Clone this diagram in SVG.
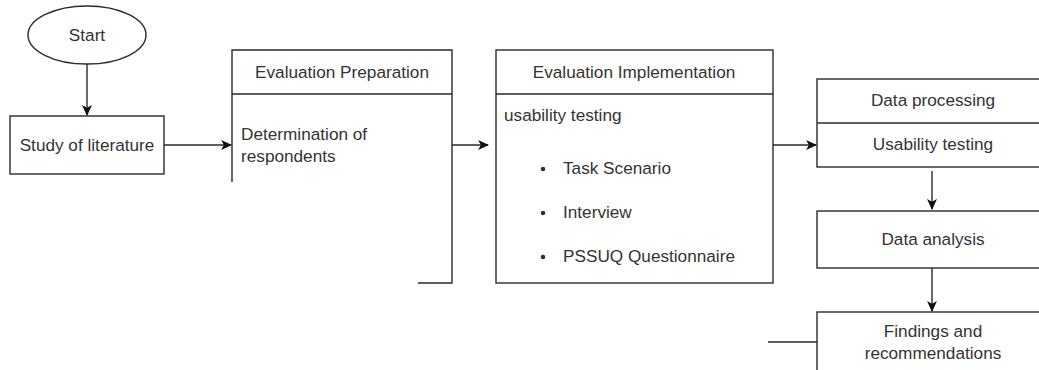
<svg xmlns="http://www.w3.org/2000/svg" width="1039" height="370" viewBox="0 0 1039 370">
<style>
.s{fill:#fff;stroke:#2a2a2a;stroke-width:1.4}
.l{fill:none;stroke:#2a2a2a;stroke-width:1.4}
text{font-family:"Liberation Sans",Arial,sans-serif;font-size:17.2px;fill:#333}
.c{text-anchor:middle}
</style>
<defs>
<marker id="a" viewBox="0 0 10 10" refX="9" refY="5" markerWidth="11" markerHeight="11" markerUnits="userSpaceOnUse" orient="auto">
<path d="M0,0.5 L10,5 L0,9.5 L2.5,5 Z" fill="#111"/>
</marker>
</defs>
<rect width="1039" height="370" fill="#fff"/>
<g id="start">
<ellipse class="s" cx="87" cy="35" rx="59" ry="29"/>
<text class="c" x="87" y="41">Start</text>
</g>
<g id="study">
<rect class="s" x="10" y="116" width="154" height="58"/>
<text class="c" x="87" y="151">Study of literature</text>
</g>
<g id="prep">
<path class="l" d="M232,182 V50 H452 V283 H418"/>
<line class="l" x1="232" y1="94" x2="452" y2="94"/>
<text class="c" x="342" y="78">Evaluation Preparation</text>
<text x="241" y="140">Determination of</text>
<text x="241" y="162">respondents</text>
</g>
<g id="impl">
<rect class="s" x="496" y="50" width="277" height="233"/>
<line class="l" x1="496" y1="94" x2="773" y2="94"/>
<text class="c" x="634" y="78">Evaluation Implementation</text>
<text x="504" y="121">usability testing</text>
<circle cx="543" cy="169" r="2.3" fill="#333"/>
<text x="563" y="174">Task Scenario</text>
<circle cx="543" cy="213" r="2.3" fill="#333"/>
<text x="563" y="218">Interview</text>
<circle cx="543" cy="257" r="2.3" fill="#333"/>
<text x="563" y="262">PSSUQ Questionnaire</text>
</g>
<g id="processing">
<rect class="s" x="817" y="79" width="240" height="88"/>
<line class="l" x1="817" y1="123" x2="1057" y2="123"/>
<text class="c" x="933" y="106">Data processing</text>
<text class="c" x="933" y="150">Usability testing</text>
</g>
<g id="analysis">
<rect class="s" x="817" y="211" width="240" height="57"/>
<text class="c" x="933" y="245">Data analysis</text>
</g>
<g id="findings">
<rect class="s" x="817" y="312" width="240" height="70"/>
<text class="c" x="933" y="337">Findings and</text>
<text class="c" x="933" y="359">recommendations</text>
</g>
<g id="connectors">
<line class="l" x1="87" y1="64" x2="87" y2="115" marker-end="url(#a)"/>
<line class="l" x1="164" y1="145" x2="231" y2="145" marker-end="url(#a)"/>
<line class="l" x1="452" y1="145" x2="488" y2="145" marker-end="url(#a)"/>
<line class="l" x1="773" y1="145" x2="816" y2="145" marker-end="url(#a)"/>
<line class="l" x1="932" y1="171" x2="932" y2="209" marker-end="url(#a)"/>
<line class="l" x1="932" y1="268" x2="932" y2="311" marker-end="url(#a)"/>
<line class="l" x1="768" y1="342" x2="817" y2="342"/>
</g>
</svg>
